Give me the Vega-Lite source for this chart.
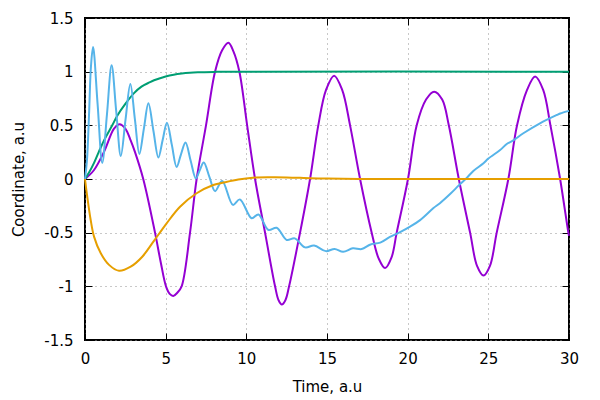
{
  "$schema": "https://vega.github.io/schema/vega-lite/v6.json",
  "width": 484,
  "height": 322,
  "autosize": "none",
  "padding": {"left": 85, "top": 18, "right": 31, "bottom": 60},
  "background": "white",
  "config": {
    "view": {"stroke": "black", "strokeWidth": 2},
    "font": "DejaVu Sans",
    "axis": {
      "domain": false,
      "tickColor": "black",
      "tickSize": -7,
      "tickWidth": 1,
      "labelFontSize": 15,
      "labelColor": "black",
      "titleFontSize": 15,
      "titleFontWeight": "normal",
      "titleColor": "black",
      "labelFlush": false,
      "labelOverlap": false,
      "gridColor": "#909090",
      "gridDash": [1, 4],
      "gridWidth": 1
    }
  },
  "data": {"values": [
    {"s":"1","t":0,"y":0},{"s":"1","t":0.56,"y":0.084},{"s":"1","t":1.18,"y":0.254},{"s":"1","t":1.8,"y":0.47},{"s":"1","t":2.15,"y":0.51},{"s":"1","t":2.5,"y":0.47},{"s":"1","t":2.83,"y":0.36},{"s":"1","t":3.1,"y":0.25},{"s":"1","t":3.61,"y":0},{"s":"1","t":4.34,"y":-0.5},{"s":"1","t":4.7,"y":-0.78},{"s":"1","t":5.02,"y":-1.0},{"s":"1","t":5.25,"y":-1.07},{"s":"1","t":5.47,"y":-1.09},{"s":"1","t":5.72,"y":-1.06},{"s":"1","t":5.99,"y":-1.0},{"s":"1","t":6.51,"y":-0.5},{"s":"1","t":6.92,"y":0},{"s":"1","t":7.5,"y":0.5},{"s":"1","t":8.06,"y":1.0},{"s":"1","t":8.5,"y":1.2},{"s":"1","t":8.89,"y":1.27},{"s":"1","t":9.2,"y":1.19},{"s":"1","t":9.57,"y":1.0},{"s":"1","t":10.05,"y":0.5},{"s":"1","t":10.54,"y":0},{"s":"1","t":11.16,"y":-0.5},{"s":"1","t":11.78,"y":-1.0},{"s":"1","t":12.0,"y":-1.13},{"s":"1","t":12.2,"y":-1.17},{"s":"1","t":12.42,"y":-1.13},{"s":"1","t":12.65,"y":-1.0},{"s":"1","t":13.33,"y":-0.5},{"s":"1","t":13.95,"y":0},{"s":"1","t":14.46,"y":0.5},{"s":"1","t":14.94,"y":0.83},{"s":"1","t":15.44,"y":0.963},{"s":"1","t":15.94,"y":0.83},{"s":"1","t":16.43,"y":0.5},{"s":"1","t":17.05,"y":0},{"s":"1","t":17.77,"y":-0.5},{"s":"1","t":18.2,"y":-0.74},{"s":"1","t":18.6,"y":-0.83},{"s":"1","t":19.0,"y":-0.73},{"s":"1","t":19.32,"y":-0.5},{"s":"1","t":20.02,"y":0},{"s":"1","t":20.56,"y":0.5},{"s":"1","t":21.14,"y":0.74},{"s":"1","t":21.64,"y":0.814},{"s":"1","t":22.14,"y":0.74},{"s":"1","t":22.55,"y":0.5},{"s":"1","t":23.17,"y":0},{"s":"1","t":23.87,"y":-0.5},{"s":"1","t":24.3,"y":-0.81},{"s":"1","t":24.7,"y":-0.9},{"s":"1","t":25.1,"y":-0.81},{"s":"1","t":25.52,"y":-0.5},{"s":"1","t":26.24,"y":0},{"s":"1","t":26.78,"y":0.5},{"s":"1","t":27.4,"y":0.83},{"s":"1","t":27.9,"y":0.955},{"s":"1","t":28.4,"y":0.83},{"s":"1","t":28.85,"y":0.5},{"s":"1","t":29.45,"y":0},{"s":"1","t":29.96,"y":-0.5},{"s":"1","t":30,"y":-0.53},

    {"s":"2","t":0,"y":0},{"s":"2","t":0.25,"y":0.06},{"s":"2","t":0.56,"y":0.15},{"s":"2","t":0.85,"y":0.25},{"s":"2","t":1.18,"y":0.36},{"s":"2","t":1.69,"y":0.5},{"s":"2","t":2.0,"y":0.59},{"s":"2","t":2.5,"y":0.7},{"s":"2","t":3.04,"y":0.8},{"s":"2","t":3.5,"y":0.86},{"s":"2","t":4.0,"y":0.9},{"s":"2","t":4.28,"y":0.92},{"s":"2","t":5.0,"y":0.955},{"s":"2","t":5.5,"y":0.972},{"s":"2","t":6.0,"y":0.983},{"s":"2","t":6.5,"y":0.99},{"s":"2","t":7.0,"y":0.994},{"s":"2","t":8.0,"y":0.998},{"s":"2","t":9.0,"y":1.0},{"s":"2","t":30,"y":1.0},

    {"s":"3","t":0,"y":0},{"s":"3","t":0.12,"y":0.17},{"s":"3","t":0.25,"y":0.6},{"s":"3","t":0.37,"y":1.05},{"s":"3","t":0.5,"y":1.23},{"s":"3","t":0.78,"y":0.7},{"s":"3","t":1.07,"y":0.15},{"s":"3","t":1.36,"y":0.6},{"s":"3","t":1.65,"y":1.06},{"s":"3","t":1.93,"y":0.64},{"s":"3","t":2.22,"y":0.215},{"s":"3","t":2.51,"y":0.55},{"s":"3","t":2.81,"y":0.885},{"s":"3","t":3.09,"y":0.56},{"s":"3","t":3.37,"y":0.233},{"s":"3","t":3.65,"y":0.47},{"s":"3","t":3.93,"y":0.705},{"s":"3","t":4.24,"y":0.45},{"s":"3","t":4.55,"y":0.2},{"s":"3","t":4.81,"y":0.36},{"s":"3","t":5.08,"y":0.525},{"s":"3","t":5.38,"y":0.32},{"s":"3","t":5.68,"y":0.112},{"s":"3","t":5.95,"y":0.23},{"s":"3","t":6.23,"y":0.34},{"s":"3","t":6.55,"y":0.17},{"s":"3","t":6.87,"y":0.006},{"s":"3","t":7.11,"y":0.08},{"s":"3","t":7.36,"y":0.154},{"s":"3","t":7.71,"y":0.02},{"s":"3","t":8.06,"y":-0.113},{"s":"3","t":8.5,"y":-0.018},{"s":"3","t":9.17,"y":-0.241},{"s":"3","t":9.6,"y":-0.19},{"s":"3","t":10.33,"y":-0.366},{"s":"3","t":10.75,"y":-0.33},{"s":"3","t":11.37,"y":-0.475},{"s":"3","t":11.88,"y":-0.454},{"s":"3","t":12.5,"y":-0.568},{"s":"3","t":13.0,"y":-0.553},{"s":"3","t":13.64,"y":-0.637},{"s":"3","t":14.2,"y":-0.62},{"s":"3","t":14.93,"y":-0.672},{"s":"3","t":15.47,"y":-0.652},{"s":"3","t":16.0,"y":-0.678},{"s":"3","t":16.6,"y":-0.646},{"s":"3","t":17.15,"y":-0.653},{"s":"3","t":17.7,"y":-0.61},{"s":"3","t":18.3,"y":-0.593},{"s":"3","t":18.9,"y":-0.54},{"s":"3","t":19.53,"y":-0.495},{"s":"3","t":20.15,"y":-0.444},{"s":"3","t":20.77,"y":-0.383},{"s":"3","t":21.6,"y":-0.27},{"s":"3","t":22.0,"y":-0.225},{"s":"3","t":22.63,"y":-0.14},{"s":"3","t":23.2,"y":-0.055},{"s":"3","t":23.66,"y":0.01},{"s":"3","t":24.07,"y":0.075},{"s":"3","t":24.7,"y":0.146},{"s":"3","t":25.0,"y":0.19},{"s":"3","t":25.73,"y":0.27},{"s":"3","t":26.14,"y":0.326},{"s":"3","t":26.55,"y":0.36},{"s":"3","t":27.17,"y":0.426},{"s":"3","t":28.2,"y":0.519},{"s":"3","t":29.24,"y":0.596},{"s":"3","t":29.45,"y":0.61},{"s":"3","t":30,"y":0.635},

    {"s":"4","t":0,"y":0},{"s":"4","t":0.14,"y":-0.165},{"s":"4","t":0.35,"y":-0.38},{"s":"4","t":0.56,"y":-0.537},{"s":"4","t":0.97,"y":-0.69},{"s":"4","t":1.49,"y":-0.8},{"s":"4","t":2.11,"y":-0.855},{"s":"4","t":2.83,"y":-0.817},{"s":"4","t":3.55,"y":-0.724},{"s":"4","t":4.24,"y":-0.584},{"s":"4","t":5.06,"y":-0.413},{"s":"4","t":5.89,"y":-0.258},{"s":"4","t":6.92,"y":-0.133},{"s":"4","t":7.95,"y":-0.056},{"s":"4","t":8.68,"y":-0.03},{"s":"4","t":9.5,"y":-0.005},{"s":"4","t":10.4,"y":0.012},{"s":"4","t":11.5,"y":0.016},{"s":"4","t":12.5,"y":0.015},{"s":"4","t":14,"y":0.007},{"s":"4","t":15,"y":0.004},{"s":"4","t":17,"y":0.001},{"s":"4","t":20,"y":0},{"s":"4","t":30,"y":0}
  ]},
  "layer": [
    {
      "mark": {"type": "line", "strokeWidth": 2, "interpolate": "catmull-rom"},
      "encoding": {
        "x": {"field": "t", "type": "quantitative",
          "scale": {"domain": [0, 30], "nice": false, "zero": false},
          "axis": {"orient": "bottom", "values": [0,5,10,15,20,25,30], "grid": true, "labelPadding": 18, "labelExpr": "datum.value + ''",
                   "title": "Time, a.u", "titleX": 242, "titleY": 46, "titleBaseline": "middle", "titleAlign": "center"}},
        "y": {"field": "y", "type": "quantitative",
          "scale": {"domain": [-1.5, 1.5], "nice": false, "zero": false},
          "axis": {"orient": "left", "values": [-1.5,-1,-0.5,0,0.5,1,1.5], "grid": true, "labelPadding": 19, "labelExpr": "datum.value + ''",
                   "title": "Coordinate, a.u", "titleX": -67, "titleY": 161, "titleBaseline": "middle", "titleAlign": "center", "titleAngle": -90}},
        "color": {"field": "s", "type": "nominal",
          "scale": {"domain": ["1","2","3","4"], "range": ["#9400d3", "#009e73", "#56b4e9", "#e69f00"]},
          "legend": null}
      }
    },
    {
      "mark": {"type": "point", "opacity": 0},
      "encoding": {
        "x": {"field": "t", "type": "quantitative",
          "axis": {"orient": "top", "values": [0,5,10,15,20,25,30], "grid": false, "labels": false, "title": null}},
        "y": {"field": "y", "type": "quantitative",
          "axis": {"orient": "right", "values": [-1.5,-1,-0.5,0,0.5,1,1.5], "grid": false, "labels": false, "title": null}}
      }
    }
  ],
  "resolve": {"axis": {"x": "independent", "y": "independent"}}
}
